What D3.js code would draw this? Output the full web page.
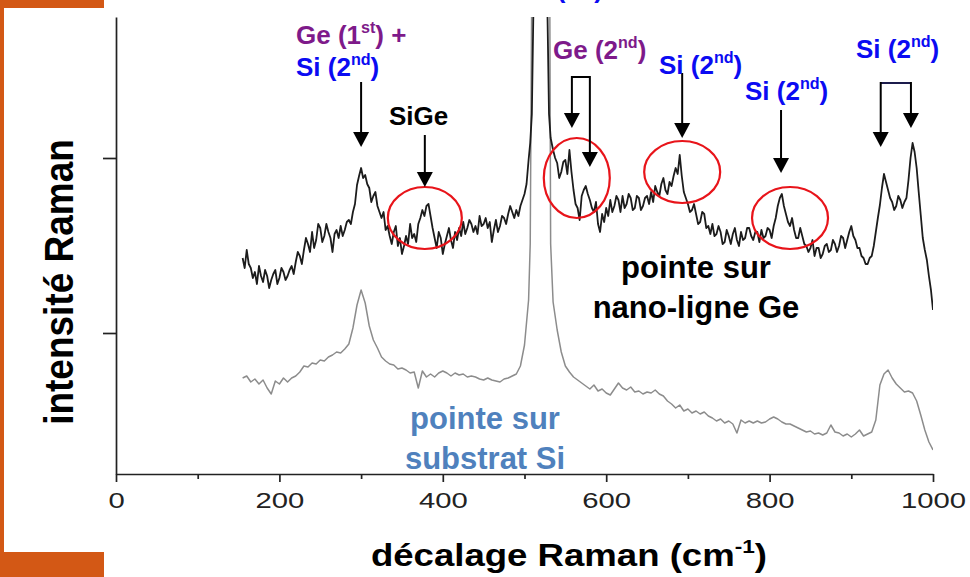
<!DOCTYPE html>
<html><head><meta charset="utf-8">
<script src="https://cdn.jsdelivr.net/npm/d3@7"></script>
<style>
html,body{margin:0;padding:0;background:#fff;}
svg{display:block;font-family:"Liberation Sans",Arial,Helvetica,sans-serif;}
</style></head><body>
<svg id="c" width="970" height="577"></svg>
<script>
// ---------- data ----------
const xTicks = [0, 200, 400, 600, 800, 1000];
const xMinorTicks = [100, 300, 500, 700, 900];
const yTicks = [141, 316];

// Ge nano-line spectrum (black)
const geShift = [155,157.5,160,162.5,165,167.5,170,172.5,175,177.5,180,182.5,185,187.5,190,192.5,195,197.5,200,202.5,205,207.5,210,212.5,215,217.5,220,222.5,225,227.5,230,232.5,235,237.5,240,242.5,245,247.5,250,252.5,255,257.5,260,262.5,265,267.5,270,272.5,275,277.5,280,282.5,285,287.5,290,292.5,295,297.5,300,302.5,305,307.5,310,312.5,315,317.5,320,322.5,325,327.5,330,332.5,335,337.5,340,342.5,345,347.5,350,352.5,355,357.5,360,362.5,365,367.5,370,372.5,375,377.5,380,382.5,385,387.5,390,392.5,395,397.5,400,402.5,405,407.5,410,412.5,415,417.5,420,422.5,425,427.5,430,432.5,435,437.5,440,442.5,445,447.5,450,452.5,455,457.5,460,462.5,465,467.5,470,472.5,475,477.5,480,482.5,485,487.5,490,492.5,495,497.5,500,502.5,505,
507,509,511,520,527,530,532,
535,537.5,540,542.5,545,547.5,550,552.5,555,557.5,560,562.5,565,567.5,570,572.5,575,577.5,580,582.5,585,587.5,590,592.5,595,597.5,600,602.5,605,607.5,610,612.5,615,617.5,620,622.5,625,627.5,630,632.5,635,637.5,640,642.5,645,647.5,650,652.5,655,657.5,660,662.5,665,667.5,670,672.5,675,677.5,680,682.5,685,687.5,690,692.5,695,697.5,700,702.5,705,707.5,710,712.5,715,717.5,720,722.5,725,727.5,730,732.5,735,737.5,740,742.5,745,747.5,750,752.5,755,757.5,760,762.5,765,767.5,770,772.5,775,777.5,780,782.5,785,787.5,790,792.5,795,797.5,800,802.5,805,807.5,810,812.5,815,817.5,820,822.5,825,827.5,830,832.5,835,837.5,840,842.5,845,847.5,850,852.5,855,857.5,860,862.5,865,867.5,870,872.5,875,877.5,880,882.5,885,887.5,890,892.5,895,897.5,900,902.5,905,907.5,910,912.5,915,917.5,920,922.5,925,927.5,930,932.5,935,937.5,940,942.5,945,947.5,950,952.5,955,957.5,960,962.5,965,967.5,970,972.5,975,977.5,980,982.5,985,987.5,990,992.5,995,997.5,1000];
const geIntensity = [216,206,224,210,206,196,202,190,208,198,192,204,198,186,194,200,204,190,196,206,202,194,198,204,208,200,212,222,218,210,224,236,230,222,242,226,234,250,246,232,238,250,242,236,222,240,244,236,248,238,244,252,254,250,262,270,289,298,306,296,299,290,286,272,278,282,268,262,256,262,244,248,238,230,242,248,228,236,220,228,238,230,250,236,240,232,250,256,264,258,268,270,258,246,236,226,242,236,220,230,238,246,234,226,242,234,246,238,252,240,246,254,250,242,248,240,258,248,250,256,246,252,232,244,254,242,248,258,256,250,260,268,262,256,264,258,268,274,280,290,314,
331,360,470,1400,520,360,336,
324,316,311,296,302,312,314,300,324,302,284,270,266,254,278,284,288,280,274,266,262,272,250,242,260,252,266,258,274,262,268,278,274,262,278,266,270,280,276,264,266,278,276,264,268,276,278,270,282,272,288,282,278,290,296,284,280,292,288,298,306,300,319,298,282,276,270,262,264,270,260,250,252,262,260,246,248,240,250,238,240,248,242,230,232,244,238,230,240,246,234,228,242,234,236,246,246,238,234,242,242,232,244,236,238,246,244,236,248,256,268,276,280,268,260,252,248,256,244,236,236,246,238,230,228,222,226,234,218,226,226,216,220,228,230,222,224,234,230,222,228,238,236,226,234,242,248,238,234,226,226,218,216,210,210,216,218,228,242,256,269,286,300,292,284,276,272,264,268,278,274,266,272,276,294,316,331,322,306,282,259,236,224,214,198,184,164];

// Si substrate spectrum (grey)
const siShift = [155,160,165,170,175,180,185,190,195,200,205,210,215,220,225,230,235,240,245,250,255,260,265,270,275,280,285,290,295,300,305,310,315,320,325,330,335,340,345,350,355,360,365,370,375,380,385,390,395,400,405,410,415,420,425,430,435,440,445,450,455,460,465,470,475,480,485,490,495,500,505,
507,509,520,530,532,
535,540,545,550,555,560,565,570,575,580,585,590,595,600,605,610,615,620,625,630,635,640,645,650,655,660,665,670,675,680,685,690,695,700,705,710,715,720,725,730,735,740,745,750,755,760,765,770,775,780,785,790,795,800,805,810,815,820,825,830,835,840,845,850,855,860,865,870,875,880,885,890,895,900,905,910,915,920,925,930,935,940,945,950,955,960,965,970,975,980,985,990,995,1000];
const siIntensity = [96,98,92,95,90,94,86,80,93,90,96,92,96,98,102,108,107,111,110,114,113,117,119,122,121,125,130,146,169,184,171,148,134,126,117,113,110,109,105,106,104,101,102,86,103,97,100,97,101,103,101,98,101,99,100,97,98,97,95,94,96,94,93,92,95,96,98,100,108,129,174,
230,500,2000,700,230,
172,144,122,108,102,97,94,91,88,85,89,83,85,81,79,85,91,86,84,87,82,83,80,82,81,84,80,78,73,70,66,69,63,65,61,63,60,62,58,56,53,55,51,53,50,41,54,51,53,51,53,51,52,55,57,55,52,50,50,48,46,44,42,43,40,41,39,41,49,42,41,38,40,37,40,44,38,40,42,54,89,100,104,96,90,86,82,83,81,73,59,44,32,24];

// ---------- layout ----------
const svg = d3.select("#c");
const W = 970, H = 577;
const plot = {left: 116, right: 933, top: 17, bottom: 474};
const x = d3.scaleLinear().domain([0, 1000]).range([plot.left, plot.right]);
const y = d3.scaleLinear().domain([0, 457]).range([plot.bottom, plot.top]);

const ORANGE = "#D35815";
const PURPLE = "#7E1A8A";
const BLUE = "#0B0BF2";
const STEEL = "#4F81BD";

// orange frame
svg.append("rect").attr("x",0).attr("y",0).attr("width",104).attr("height",8).attr("fill",ORANGE);
svg.append("rect").attr("x",0).attr("y",0).attr("width",4).attr("height",H).attr("fill",ORANGE);
svg.append("rect").attr("x",0).attr("y",552).attr("width",104).attr("height",H-552).attr("fill",ORANGE);

// clip
svg.append("clipPath").attr("id","clip").append("rect")
  .attr("x",plot.left).attr("y",plot.top).attr("width",plot.right-plot.left).attr("height",plot.bottom-plot.top);

const line = d3.line().x(d => x(d[0])).y(d => y(d[1]));
const siData = siShift.map((s,i) => [s, siIntensity[i]]);
const geData = geShift.map((s,i) => [s, geIntensity[i]]);

const gLines = svg.append("g").attr("clip-path","url(#clip)");
gLines.append("path").datum(siData).attr("d", line)
  .attr("fill","none").attr("stroke","#8c8c8c").attr("stroke-width",1.5).attr("stroke-linejoin","round");
gLines.append("path").datum(geData).attr("d", line)
  .attr("fill","none").attr("stroke","#1c1c1c").attr("stroke-width",1.8).attr("stroke-linejoin","round");

// axes
const gx = svg.append("g").attr("transform",`translate(0,${plot.bottom})`)
  .call(d3.axisBottom(x).tickValues(xTicks).tickSize(8).tickSizeOuter(0).tickFormat(d3.format("d")));
const gxm = svg.append("g").attr("transform",`translate(0,${plot.bottom})`)
  .call(d3.axisBottom(x).tickValues(xMinorTicks).tickSize(5).tickSizeOuter(0).tickFormat(""));
gxm.select(".domain").remove();
const gy = svg.append("g").attr("transform",`translate(${plot.left},0)`)
  .call(d3.axisLeft(y).tickValues(yTicks).tickSize(13).tickSizeOuter(0).tickFormat(""));
[gx,gxm,gy].forEach(g => {
  g.selectAll("path,line").attr("stroke","#222").attr("stroke-width",1.7);
});
gx.selectAll("text").attr("y",34).attr("dy",0).attr("fill","#222")
  .attr("font-size",22).attr("font-family","Liberation Sans, Arial, sans-serif")
  .attr("transform","scale(1.33,1)");

// ---------- text helpers ----------
function label(x0, yb, size, color, parts, anchor, sx) {
  const t = svg.append("text")
    .attr("transform",`translate(${x0},${yb}) scale(${sx||1},1)`)
    .attr("font-size",size).attr("font-weight","bold").attr("fill",color)
    .attr("text-anchor",anchor||"start");
  let up = false;
  parts.forEach(p => {
    const sup = Array.isArray(p);
    const s = t.append("tspan").text(sup ? p[0] : p);
    if (sup) { s.attr("font-size", size*0.62).attr("dy", -size*0.42); up = true; }
    else if (up) { s.attr("dy", size*0.42); up = false; }
  });
  return t;
}
function arrow(xp, y0, y1, color) {
  const hw = 8, hh = 15;
  svg.append("line").attr("x1",xp).attr("x2",xp).attr("y1",y0).attr("y2",y1-hh+1)
    .attr("stroke",color||"#000").attr("stroke-width",2);
  svg.append("path").attr("d",`M${xp-hw},${y1-hh}L${xp+hw},${y1-hh}L${xp},${y1}Z`).attr("fill",color||"#000");
}
function ellipse(w, inten, rx, ry) {
  svg.append("ellipse").attr("cx",x(w)).attr("cy",y(inten)).attr("rx",rx).attr("ry",ry)
    .attr("fill","none").attr("stroke","#E8141A").attr("stroke-width",2.2);
}

// ellipses
ellipse(378, 256, 37, 31);
ellipse(564, 296, 33, 40);
ellipse(693, 302, 38, 31);
ellipse(825, 256, 38, 31);

// arrows
arrow(x(300), y(392), y(327));
arrow(x(378), y(339), y(287));
// Ge (2nd) bracket
svg.append("path").attr("d",`M${x(558)},${y(397)}H${x(580)}`).attr("stroke","#000").attr("stroke-width",2).attr("fill","none");
arrow(x(558), y(397)-1, y(346));
arrow(x(580), y(397)-1, y(307));
arrow(x(693), y(401), y(336));
arrow(x(814), y(364), y(301));
// Si (2nd) bracket right
svg.append("path").attr("d",`M${x(936)},${y(391)}H${x(973)}`).attr("stroke","#1c1c4c").attr("stroke-width",2).attr("fill","none");
arrow(x(936), y(391)-1, y(327));
arrow(x(973), y(391)-1, y(346));

// annotation texts
label(525, -2, 26, BLUE, ["Si (", "1", ["st"], ")"]);
label(296, 44, 26, PURPLE, ["Ge (1", ["st"], ") +"]);
label(296, 76, 26, BLUE, ["Si (2", ["nd"], ")"]);
label(389, 125, 26, "#000", ["SiGe"]);
label(553, 59, 26, PURPLE, ["Ge (2", ["nd"], ")"]);
label(659, 74, 26, BLUE, ["Si (2", ["nd"], ")"]);
label(745, 100, 26, BLUE, ["Si (2", ["nd"], ")"]);
label(856, 58, 26, BLUE, ["Si (2", ["nd"], ")"]);
label(696, 278, 31, "#000", ["pointe sur"], "middle");
label(696, 318, 31, "#000", ["nano-ligne Ge"], "middle");
label(485, 429, 31, STEEL, ["pointe sur"], "middle");
label(485, 469, 31, STEEL, ["substrat Si"], "middle");

// axis titles
label(569, 566, 31, "#000", ["décalage Raman (cm", ["-1"], ")"], "middle", 1.18);
svg.append("text")
  .attr("transform","translate(73,282) rotate(-90) scale(1,1.12)")
  .attr("text-anchor","middle").attr("font-size",37).attr("font-weight","bold").attr("fill","#000")
  .text("intensité Raman");
</script>
</body></html>
